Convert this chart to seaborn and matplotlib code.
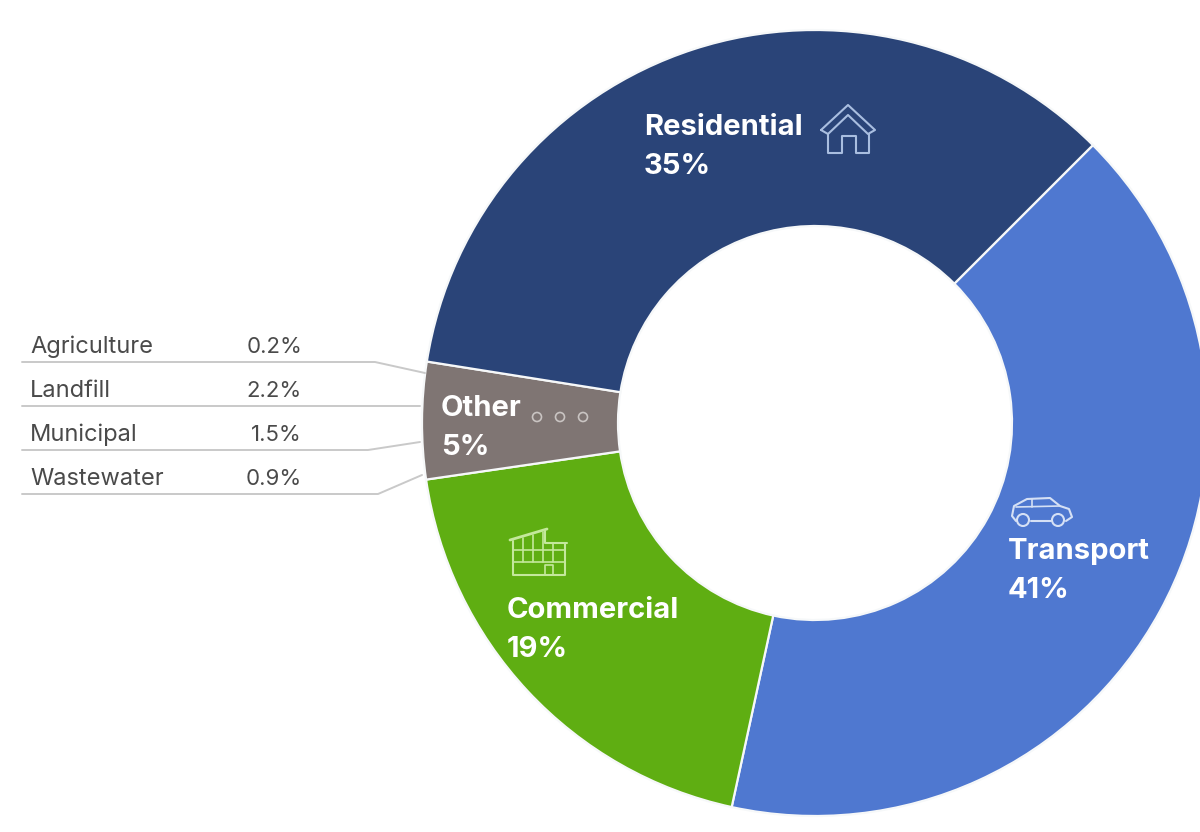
"""Emissions by sector donut, with the breakdown of Other on the left."""

import matplotlib
matplotlib.use("Agg")
import matplotlib.pyplot as plt
from matplotlib.patches import Circle
import seaborn as sns

# clockwise from the upper right
sectors = ["Transport", "Commercial", "Other", "Residential"]
shares = [40.9, 19.3, 4.8, 35.0]
sector_colors = ["#4F78D0", "#5FAE12", "#7F7573", "#2A4478"]

other_names = ["Agriculture", "Landfill", "Municipal", "Wastewater"]
other_values = ["0.2%", "2.2%", "1.5%", "0.9%"]

HEIGHT = 832


def py(y):
    # picture y (from the top) to axes y
    return HEIGHT - y


def stroke(ax, points, color, lw=1.5):
    ax.plot([p[0] for p in points], [py(p[1]) for p in points], color=color, lw=lw,
            solid_capstyle="round", solid_joinstyle="round")


def draw_house(ax, color):
    stroke(ax, [(821, 130), (848, 105), (875, 130), (868, 134), (848, 115), (828, 134), (821, 130)], color)
    stroke(ax, [(828, 134), (828, 153), (842, 153), (842, 136), (856, 136), (856, 153), (869, 153), (869, 134)], color)


def draw_building(ax, color):
    stroke(ax, [(510, 540), (547, 529)], color, lw=2)
    stroke(ax, [(545, 531), (545, 543), (567, 543)], color)
    stroke(ax, [(513, 541), (513, 575), (565, 575), (565, 543)], color)
    for x, top in zip((523, 533, 543, 553), (538, 535, 532, 543)):
        stroke(ax, [(x, top), (x, 562)], color, lw=1.2)
    for y in (550, 562):
        stroke(ax, [(513, y), (565, y)], color, lw=1.2)
    stroke(ax, [(545, 575), (545, 565), (553, 565), (553, 575)], color, lw=1.2)


def draw_car(ax, color):
    stroke(ax, [(1016, 521), (1012, 516), (1014, 506), (1027, 499), (1050, 498),
                (1060, 506), (1069, 509), (1072, 517), (1066, 521)], color)
    stroke(ax, [(1031, 521), (1051, 521)], color)
    stroke(ax, [(1016, 507), (1060, 506)], color, lw=1.2)
    stroke(ax, [(1032, 499), (1032, 507)], color, lw=1.2)
    ax.add_patch(Circle((1023, py(520)), 6, fill=False, ec=color, lw=1.5))
    ax.add_patch(Circle((1058, py(520)), 6, fill=False, ec=color, lw=1.5))


sns.set_theme(style="white")
plt.rcParams["font.family"] = ["Inter", "DejaVu Sans"]

fig = plt.figure(figsize=(12, 8.32), dpi=100, facecolor="white")
ax = fig.add_axes([0, 0, 1, 1])

ax.pie(shares, colors=sns.color_palette(sector_colors), startangle=45, counterclock=False,
       center=(815, py(423)), radius=393,
       wedgeprops={"width": 196, "edgecolor": "#F6F8F9", "linewidth": 1.6})
ax.set_xlim(0, 1200)
ax.set_ylim(0, HEIGHT)
ax.set_aspect("equal")
ax.axis("off")

# sector labels
label_at = {"Residential": (644, 135), "Transport": (1008, 559), "Commercial": (507, 618), "Other": (441, 416)}
for name, share in zip(sectors, shares):
    x, y = label_at[name]
    ax.text(x, py(y), name, color="white", fontsize=21, fontweight="bold", va="baseline")
    ax.text(x, py(y + 39), f"{share:.0f}%", color="white", fontsize=21, fontweight="bold", va="baseline")

# breakdown of Other
leaders = [
    [(22, 362), (375, 362), (425, 373)],
    [(22, 406), (420, 406)],
    [(22, 450), (368, 450), (420, 442)],
    [(22, 494), (378, 494), (422, 475)],
]
for i, (name, value) in enumerate(zip(other_names, other_values)):
    y = 353 + i * 44
    ax.text(30, py(y), name, color="#4A4A4A", fontsize=17, va="baseline")
    ax.text(302, py(y), value, color="#4A4A4A", fontsize=16, va="baseline", ha="right")
    stroke(ax, leaders[i], "#C9C9C9", lw=1.4)

draw_house(ax, "#A9BEE0")
draw_building(ax, "#C4E89C")
draw_car(ax, "#D5E0F5")
for x in (537, 560, 583):
    ax.add_patch(Circle((x, py(417)), 4.5, fill=False, ec="#C9C4C2", lw=1.2))

fig.savefig("out.png", dpi=100)
plt.close(fig)
